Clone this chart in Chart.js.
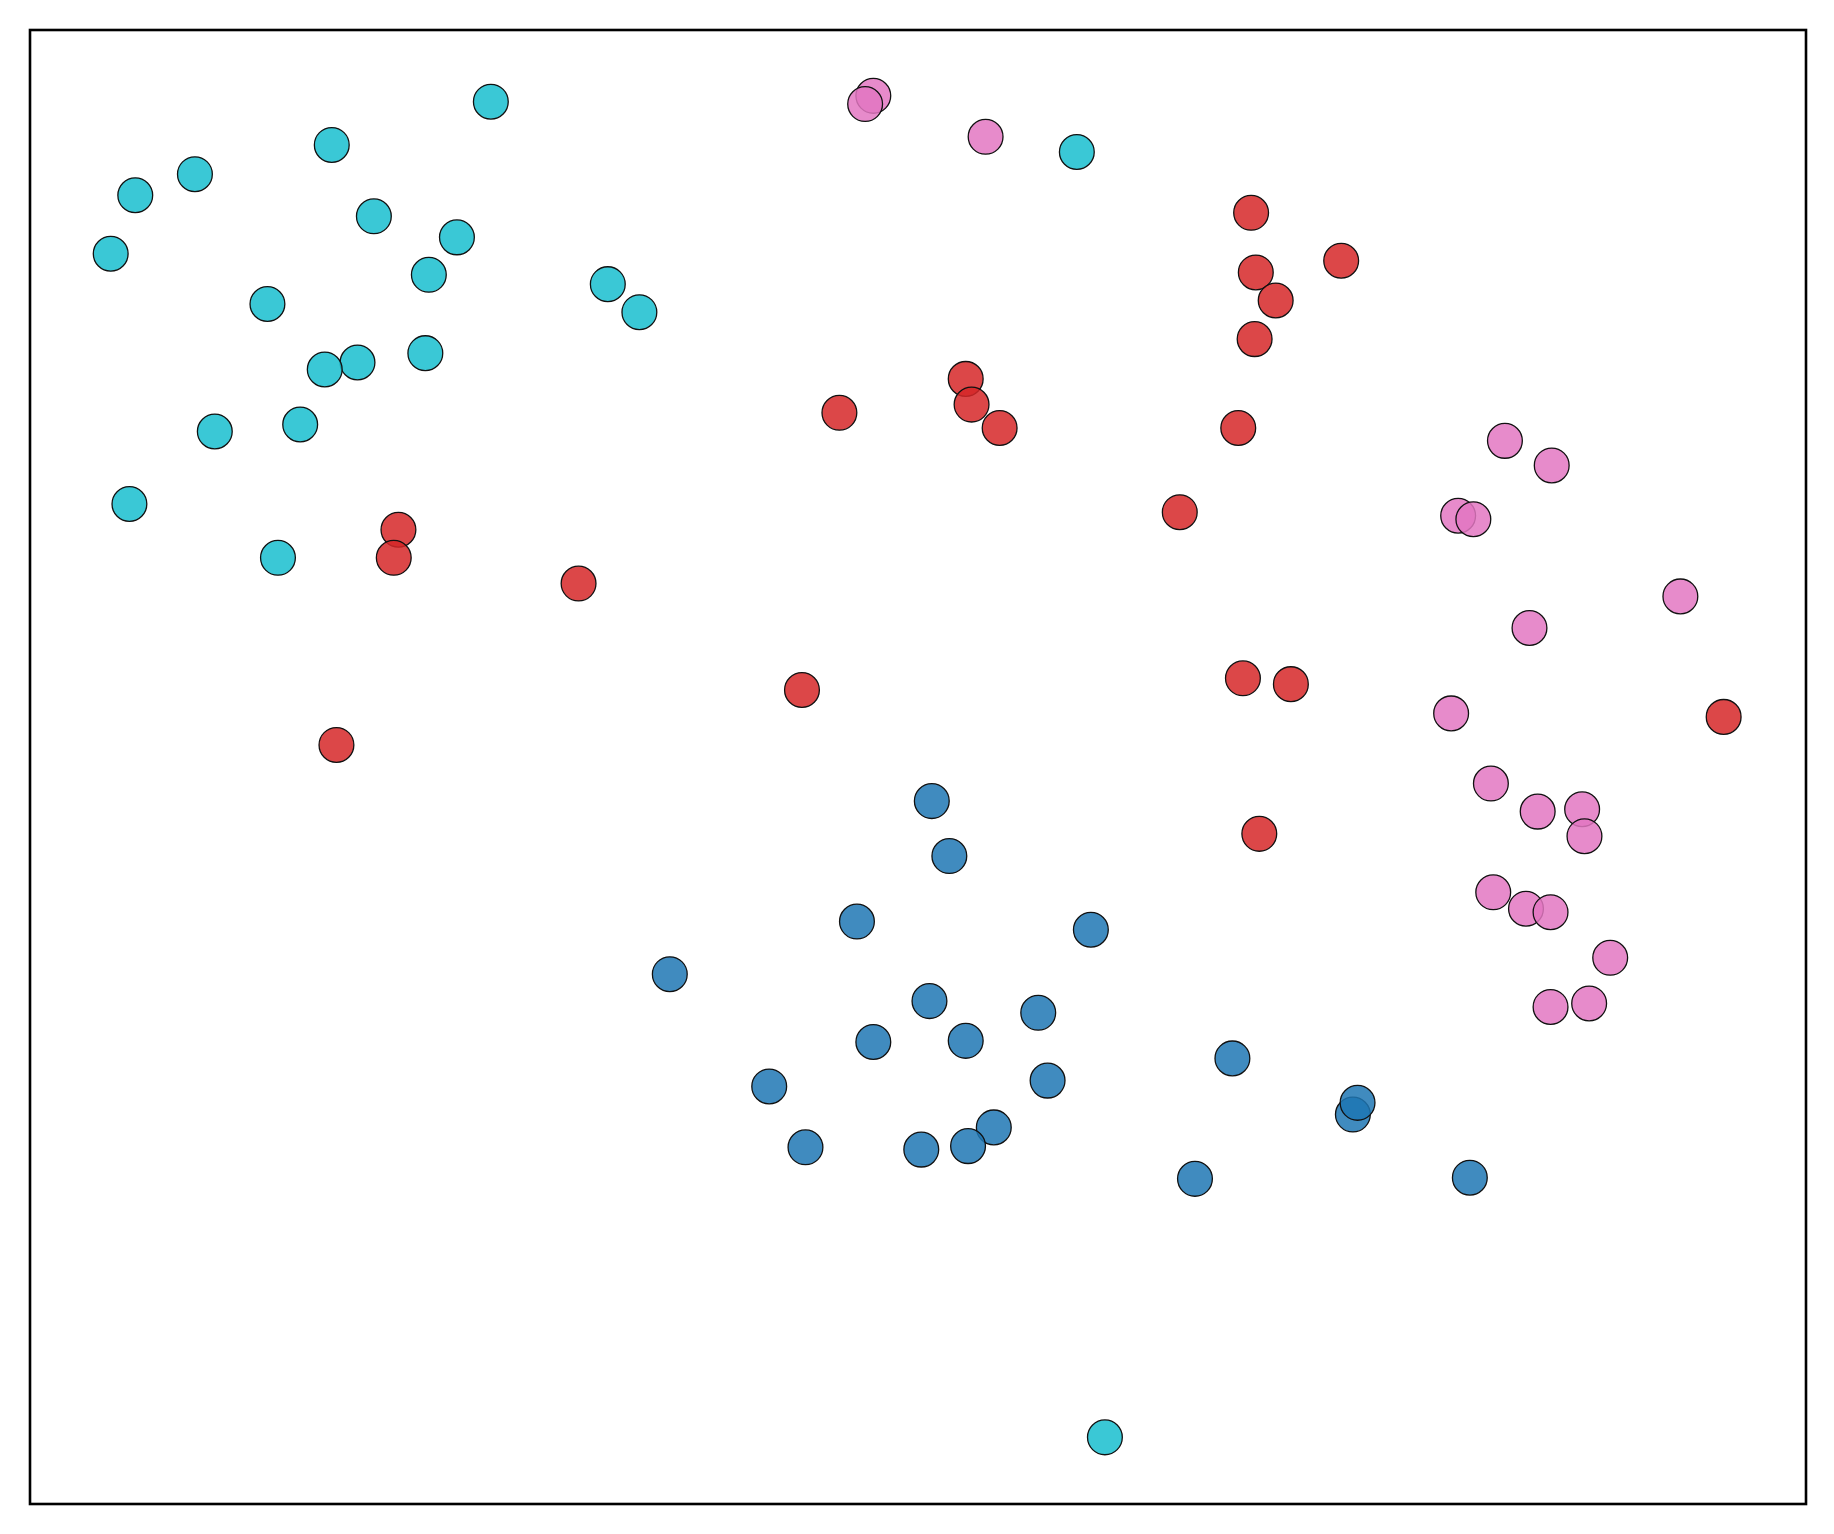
<!DOCTYPE html>
<html>
<head>
<meta charset="utf-8">
<script src="https://cdn.jsdelivr.net/npm/chart.js@4/dist/chart.umd.min.js"></script>
<style>
html,body{margin:0;padding:0;background:#fff;}
#wrap{width:1834px;height:1534px;}
</style>
</head>
<body>
<div id="wrap"><canvas id="c" width="1834" height="1534"></canvas></div>
<script>
// Values (arbitrary units; no tick labels shown)
const cyanX = [394,258,141,90,294,365,69,341,203,494,521,338,280,252,231,158,85,212,895,919];
const cyanY = [1199,1162,1137,1119,1101,1083,1069,1051,1026,1043,1019,984,976,970,923,917,855,809,1156,57];

const redX = [1044,1121,1048,1065,1047,800,805,692,829,1033,983,315,311,469,660,1037,1078,1448,262,1051];
const redY = [1104,1063,1053,1029,996,962,940,933,920,920,848,833,809,787,696,706,701,673,649,573];

const pinkX = [721,714,817,1261,1301,1221,1234,1411,1282,1215,1249,1289,1327,1329,1251,1279,1300,1351,1300,1333];
const pinkY = [1204,1197,1169,909,888,845,842,776,749,676,616,592,594,571,523,509,506,467,425,428];

const blueX = [771,786,707,907,547,769,862,721,800,1028,632,870,1131,1135,824,663,762,802,996,1231];
const blueY = [601,554,498,491,453,430,420,395,396,381,357,362,333,343,322,305,303,306,278,279];

const xMin = 0, xMax = 1518.4, yMin = 0, yMax = 1260.3;

function pts(xs, ys){ return xs.map((x,i)=>({x:x, y:ys[i]})); }
function ds(xs, ys, color){
  return {data: pts(xs, ys), backgroundColor: color, borderColor: '#111', borderWidth: 1.3,
          pointRadius: 17.4, pointHoverRadius: 17.4, clip: false};
}

const frame = {
  id: 'frame',
  afterDraw(chart){
    const a = chart.chartArea, ctx = chart.ctx;
    ctx.save();
    ctx.strokeStyle = '#000';
    ctx.lineWidth = 2.6;
    ctx.strokeRect(a.left, a.top, a.right - a.left, a.bottom - a.top);
    ctx.restore();
  }
};

new Chart(document.getElementById('c'), {
  type: 'scatter',
  data: {
    datasets: [
      ds(blueX, blueY, 'rgba(31,119,180,0.85)'),
      ds(cyanX, cyanY, 'rgba(23,190,207,0.85)'),
      ds(redX, redY, 'rgba(214,39,40,0.85)'),
      ds(pinkX, pinkY, 'rgba(227,119,194,0.85)')
    ]
  },
  options: {
    responsive: false,
    animation: false,
    devicePixelRatio: 1,
    layout: {padding: {left: 30, top: 30, right: 28, bottom: 30}},
    plugins: {legend: {display: false}, tooltip: {enabled: false}},
    scales: {
      x: {type: 'linear', display: false, min: xMin, max: xMax},
      y: {type: 'linear', display: false, min: yMin, max: yMax}
    }
  },
  plugins: [frame]
});
</script>
</body>
</html>
